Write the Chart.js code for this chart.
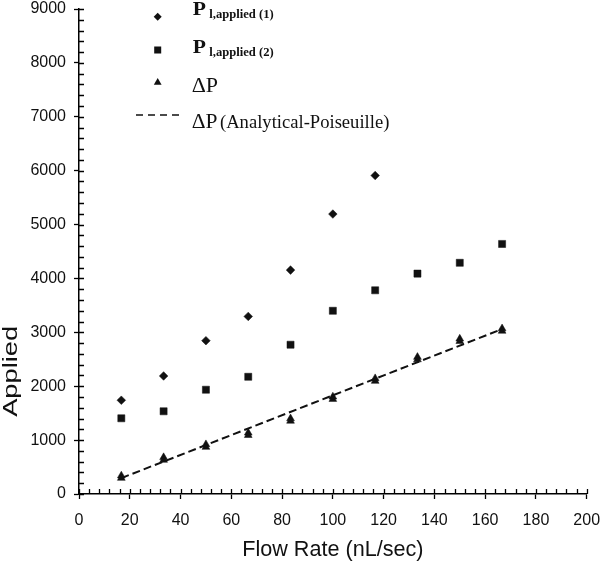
<!DOCTYPE html>
<html><head><meta charset="utf-8">
<script src="https://cdn.jsdelivr.net/npm/chart.js@4"></script>
<style>html,body{margin:0;padding:0;background:#fff}</style>
</head><body>
<canvas id="c" width="600" height="563"></canvas>
<script>
// ---- data ----
const flowRate   = [16.67, 33.33, 50, 66.67, 83.33, 100, 116.67, 133.33, 150, 166.67];
const pApplied1  = [1740, 2190, 2845, 3295, 4155, 5195, 5910];
const pApplied2  = [1405, 1535, 1935, 2175, 2770, 3400, 3780, 4090, 4290, 4640];
const deltaPa    = [340, 680, 920, 1135, 1400, 1805, 2145, 2540, 2880, 3070];
const deltaPb    = [295, 630, 870, 1090, 1355, 1760, 2095, 2495, 2835, 3025];
const poiseuilleX = [16.67, 166.67];
const poiseuilleY = [295, 3060];
const xTickValues = [0, 20, 40, 60, 80, 100, 120, 140, 160, 180, 200];
const yTickValues = [0, 1000, 2000, 3000, 4000, 5000, 6000, 7000, 8000, 9000];
const xMinorStep = 4;
const yMinorStep = 200;
const xTitle = 'Flow Rate (nL/sec)';
const yTitle = 'Applied';

const pts = (xs, ys) => ys.map((v, i) => ({x: xs[i], y: v}));
const INK = '#111';
const SANS = '"Liberation Sans", Arial, sans-serif';
const SERIF = '"Liberation Serif", "Times New Roman", serif';

const innerTicks = {
  id: 'innerTicks',
  afterDraw(chart) {
    const {ctx, chartArea: a, scales: {x, y}} = chart;
    ctx.save();
    ctx.strokeStyle = '#000';
    ctx.lineWidth = 1.3;
    ctx.beginPath();
    for (let v = x.min; v <= x.max + 1e-9; v += xMinorStep) {
      const px = Math.round(x.getPixelForValue(v)) + 0.5;
      ctx.moveTo(px, a.bottom); ctx.lineTo(px, a.bottom - 5);
    }
    for (let v = y.min; v <= y.max + 1e-9; v += yMinorStep) {
      const py = Math.round(y.getPixelForValue(v)) + 0.5;
      ctx.moveTo(a.left, py); ctx.lineTo(a.left + 5, py);
    }
    ctx.stroke();
    ctx.restore();
  }
};

const yTitlePlugin = {
  id: 'yTitle',
  afterDraw(chart) {
    const ctx = chart.ctx;
    ctx.save();
    ctx.translate(16.7, 371.3);
    ctx.rotate(-Math.PI / 2);
    ctx.scale(1.3, 1);
    ctx.font = '21px ' + SANS;
    ctx.fillStyle = INK;
    ctx.textAlign = 'center';
    ctx.textBaseline = 'alphabetic';
    ctx.fillText(yTitle, 0, 0);
    ctx.restore();
  }
};

function diamond(ctx, x, y, r) { ctx.beginPath(); ctx.moveTo(x, y - r); ctx.lineTo(x + r, y); ctx.lineTo(x, y + r); ctx.lineTo(x - r, y); ctx.closePath(); ctx.fill(); }
function square(ctx, x, y, s) { ctx.fillRect(x - s / 2, y - s / 2, s, s); }
function triangle(ctx, x, y, r) { ctx.beginPath(); ctx.moveTo(x, y - r); ctx.lineTo(x + r * 0.866, y + r / 2); ctx.lineTo(x - r * 0.866, y + r / 2); ctx.closePath(); ctx.fill(); }

const legendPlugin = {
  id: 'customLegend',
  afterDraw(chart) {
    const ctx = chart.ctx;
    ctx.save();
    ctx.fillStyle = INK;
    ctx.strokeStyle = INK;
    ctx.textAlign = 'left';
    ctx.textBaseline = 'alphabetic';
    // row 1
    diamond(ctx, 157.7, 16.7, 4);
    ctx.save(); ctx.translate(192.7, 15.3); ctx.scale(1.2, 1);
    ctx.font = 'bold 18px ' + SERIF; ctx.fillText('P', 0, 0); ctx.restore();
    ctx.font = 'bold 12.6px ' + SERIF; ctx.fillText('l,applied (1)', 209.3, 17.5);
    // row 2
    square(ctx, 157.7, 50, 7);
    ctx.save(); ctx.translate(192.7, 53.3); ctx.scale(1.2, 1);
    ctx.font = 'bold 18px ' + SERIF; ctx.fillText('P', 0, 0); ctx.restore();
    ctx.font = 'bold 12.6px ' + SERIF; ctx.fillText('l,applied (2)', 209.3, 55.5);
    // row 3
    triangle(ctx, 157.7, 82.5, 4.5);
    ctx.font = '22px ' + SERIF; ctx.fillText('\u0394P', 191.7, 91.7);
    // row 4
    ctx.lineWidth = 1.5; ctx.setLineDash([7, 5]);
    ctx.beginPath(); ctx.moveTo(136, 115); ctx.lineTo(180, 115); ctx.stroke();
    ctx.setLineDash([]);
    ctx.font = '21.5px ' + SERIF; ctx.fillText('\u0394P', 191.7, 128.3);
    ctx.font = '18.6px ' + SERIF; ctx.fillText('(Analytical-Poiseuille)', 220, 128.3);
    ctx.restore();
  }
};

const scatterDs = (data, style, r) => ({
  type: 'scatter', data, pointStyle: style, radius: r, pointRadius: r, pointHoverRadius: r,
  backgroundColor: INK, borderColor: INK, borderWidth: 0.5, showLine: false
});

new Chart(document.getElementById('c'), {
  type: 'scatter',
  data: {
    datasets: [
      {
        type: 'line', label: '\u0394P (Analytical-Poiseuille)',
        data: pts(poiseuilleX, poiseuilleY),
        borderColor: INK, borderWidth: 2, borderDash: [8, 4],
        pointRadius: 0, fill: false, tension: 0
      },
      Object.assign(scatterDs(pts(flowRate, pApplied1), 'rectRot', 4.3), {label: 'Pl,applied (1)'}),
      Object.assign(scatterDs(pts(flowRate, pApplied2), 'rect', 5), {label: 'Pl,applied (2)'}),
      Object.assign(scatterDs(pts(flowRate, deltaPb), 'triangle', 4.5), {label: '\u0394P'}),
      Object.assign(scatterDs(pts(flowRate, deltaPa), 'triangle', 4.5), {label: '\u0394P'})
    ]
  },
  options: {
    responsive: false,
    animation: false,
    events: [],
    layout: {padding: {top: 9, right: 13.3, left: 0, bottom: 0}, autoPadding: false},
    plugins: {legend: {display: false}, tooltip: {enabled: false}, title: {display: false}},
    scales: {
      x: {
        type: 'linear', position: 'bottom', min: 0, max: 200,
        afterBuildTicks: s => { s.ticks = xTickValues.map(v => ({value: v})); },
        afterFit: s => { s.height = 69; s.paddingLeft = 0; s.paddingRight = 0; },
        ticks: {color: INK, font: {family: SANS, size: 16}, padding: 12, maxRotation: 0, autoSkip: false,
                callback: v => String(v)},
        grid: {drawOnChartArea: false, drawTicks: true, tickLength: 5, tickColor: '#000', tickWidth: 1.3},
        border: {display: true, color: '#000', width: 1.5},
        title: {display: true, text: xTitle, color: INK, font: {family: SANS, size: 21.6}, padding: {top: 0, bottom: 0}}
      },
      y: {
        type: 'linear', position: 'left', min: 0, max: 9000,
        afterBuildTicks: s => { s.ticks = yTickValues.map(v => ({value: v})); },
        afterFit: s => { s.width = 79; s.paddingTop = 0; s.paddingBottom = 0; },
        ticks: {color: INK, font: {family: SANS, size: 16}, padding: 8, autoSkip: false,
                callback: v => String(v)},
        grid: {drawOnChartArea: false, drawTicks: true, tickLength: 5, tickColor: '#000', tickWidth: 1.3},
        border: {display: true, color: '#000', width: 1.5},
        title: {display: false}
      }
    }
  },
  plugins: [innerTicks, yTitlePlugin, legendPlugin]
});
</script>
</body></html>
